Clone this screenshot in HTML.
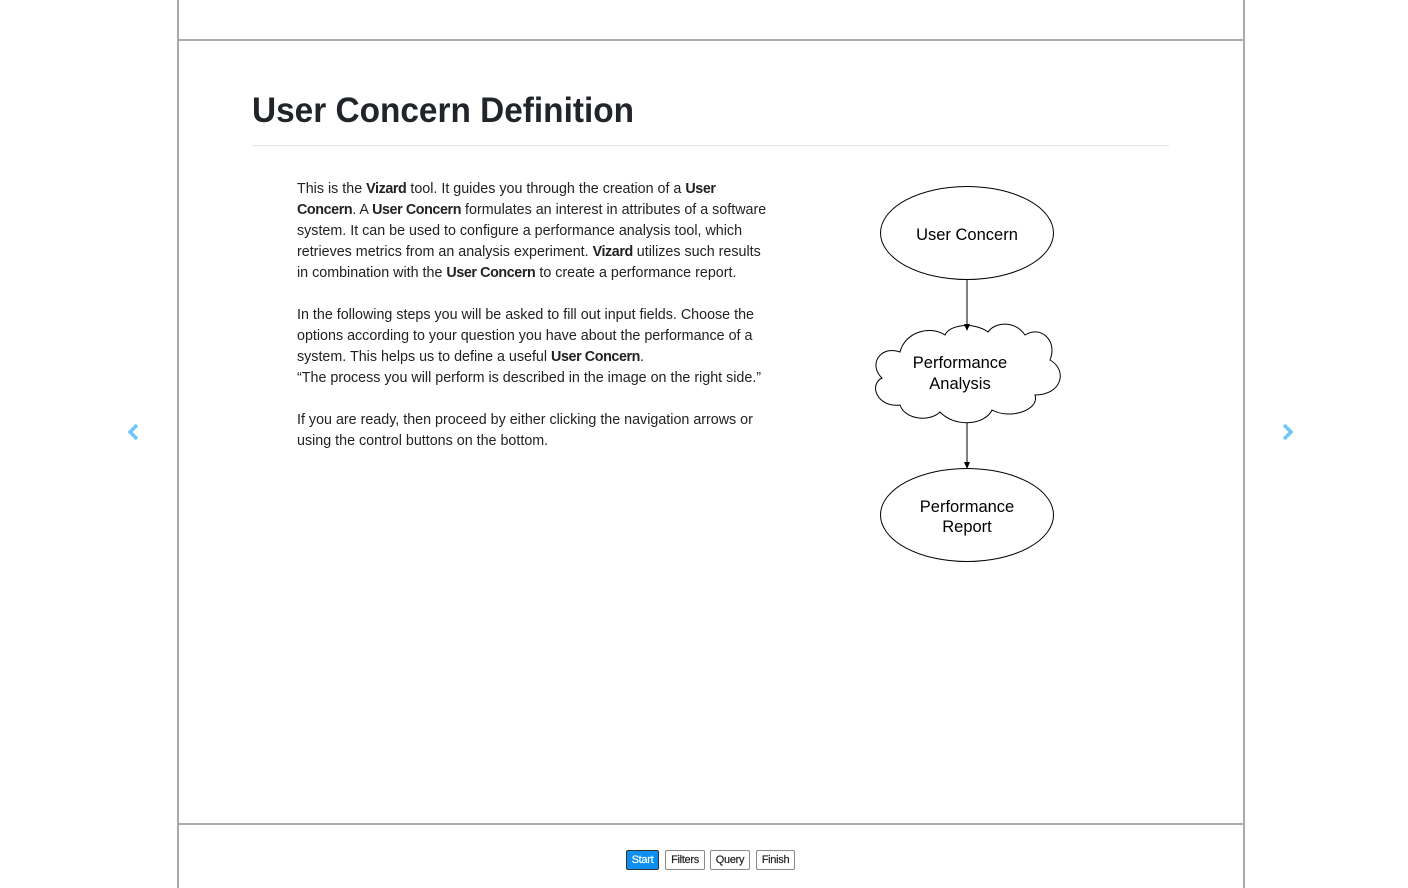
<!DOCTYPE html>
<html><head><meta charset="utf-8"><style>
body{margin:0;width:1408px;height:888px;background:#fff;overflow:hidden;font-family:"Liberation Sans",Arial,sans-serif;color:#212529;position:relative}
.l{position:absolute;background:#999}
.p{position:absolute;left:297px;font-size:14.3px;line-height:21px;white-space:nowrap;color:#222}
b{font-weight:bold;letter-spacing:-0.4px}
.btn{position:absolute;top:850px;height:18px;border:1px solid #888;font-size:11px;line-height:18px;text-align:center;color:#222;background:#fff;border-radius:2px;letter-spacing:-0.3px;-webkit-text-stroke:0.2px #222}
</style></head><body>
<div class="l" style="left:177px;top:0;width:2px;height:888px;background:#aaa"></div>
<div class="l" style="left:1243px;top:0;width:2px;height:888px;background:#aaa"></div>
<div class="l" style="left:177px;top:39px;width:1068px;height:2px;background:#aaa"></div>
<div class="l" style="left:177px;top:823px;width:1068px;height:2px;background:#aaa"></div>
<div class="l" style="left:252px;top:145px;width:917px;height:1px;background:#e5e5e5"></div>
<svg style="position:absolute;left:0;top:0" width="1408" height="888">
<text x="252" y="122" font-family="Liberation Sans,Arial,sans-serif" font-weight="bold" font-size="35" fill="#212529" textLength="382" lengthAdjust="spacingAndGlyphs">User Concern Definition</text>
<path d="M137 425 L130 432 L137 439" fill="none" stroke="#6ec6f8" stroke-width="3.5"/>
<path d="M1284 425 L1291 432 L1284 439" fill="none" stroke="#6ec6f8" stroke-width="3.5"/>
<g fill="#fff" stroke="#000" stroke-width="1">
<ellipse cx="967" cy="233" rx="86.5" ry="46.5"/>
<ellipse cx="967" cy="515" rx="86.5" ry="46.5"/>
<path d="M900 352 C880 345 868 365 882 378 C868 385 878 408 900 405 C905 420 930 422 940 412 C955 428 985 425 992 410 C1010 420 1040 410 1035 395 C1062 395 1068 370 1050 360 C1058 340 1040 325 1025 335 C1015 320 995 322 988 332 C975 322 950 324 945 335 C930 325 905 332 900 352 Z"/>
</g>
<line x1="967" y1="280" x2="967" y2="325" stroke="#000"/>
<path d="M964 324 L967 331 L970 324 Z" fill="#000"/>
<line x1="967" y1="423" x2="967" y2="463" stroke="#000"/>
<path d="M964 462 L967 469 L970 462 Z" fill="#000"/>
<g font-family="Liberation Sans,Arial,sans-serif" font-size="16.5" text-anchor="middle" fill="#000">
<text x="967" y="240">User Concern</text>
<text x="960" y="368">Performance</text>
<text x="960" y="389">Analysis</text>
<text x="967" y="512">Performance</text>
<text x="967" y="532">Report</text>
</g>
</svg>
<div class="p" style="top:179px">This is the <b>Vizard</b> tool. It guides you through the creation of a <b>User</b><br><b>Concern</b>. A <b>User Concern</b> formulates an interest in attributes of a software<br>system. It can be used to configure a performance analysis tool, which<br>retrieves metrics from an analysis experiment. <b>Vizard</b> utilizes such results<br>in combination with the <b>User Concern</b> to create a performance report.</div>
<div class="p" style="top:305px">In the following steps you will be asked to fill out input fields. Choose the<br>options according to your question you have about the performance of a<br>system. This helps us to define a useful <b>User Concern</b>.<br>“The process you will perform is described in the image on the right side.”</div>
<div class="p" style="top:410px">If you are ready, then proceed by either clicking the navigation arrows or<br>using the control buttons on the bottom.</div>
<div class="btn" style="left:626px;width:31px;background:#0d8ff0;color:#fff;border-color:#333;-webkit-text-stroke:0.2px #fff">Start</div>
<div class="btn" style="left:665px;width:38px">Filters</div>
<div class="btn" style="left:710px;width:38px">Query</div>
<div class="btn" style="left:756px;width:37px">Finish</div>
</body></html>
